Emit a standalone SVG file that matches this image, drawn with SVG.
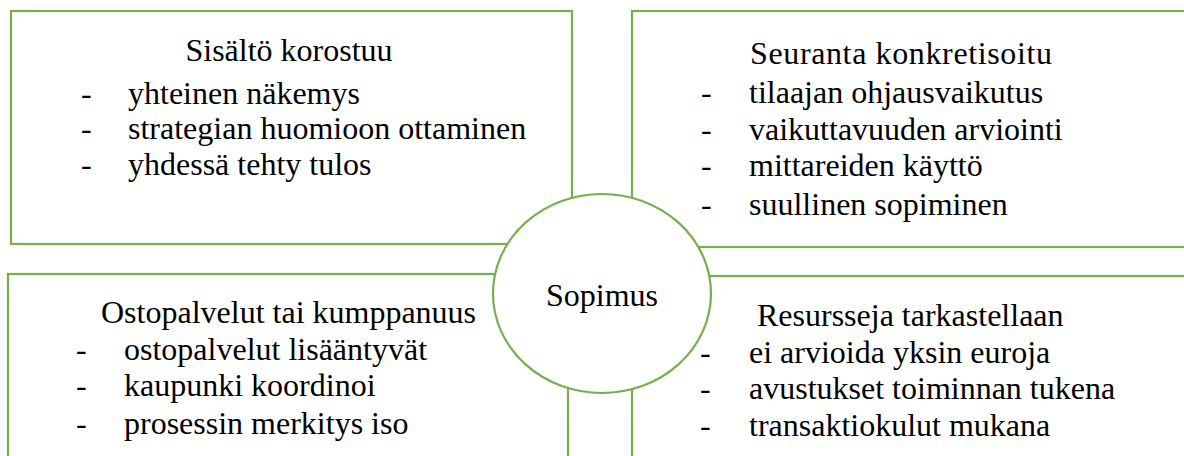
<svg xmlns="http://www.w3.org/2000/svg" width="1184" height="456" viewBox="0 0 1184 456">
<style>
.box{fill:#ffffff;stroke:#74b04d;stroke-width:2.2}
.t{font-family:'Liberation Serif','DejaVu Serif',serif;font-size:32px;fill:#000}
.c{text-anchor:middle}
</style>
<rect width="1184" height="456" fill="#fff"/>
<g id="node-sisalto">
<rect class="box" x="11" y="11" width="561" height="233"/>
<text class="t c" x="289" y="61">Sisältö korostuu</text>
<text class="t" x="81" y="104">-</text><text class="t" x="128" y="104">yhteinen näkemys</text>
<text class="t" x="81" y="139">-</text><text class="t" x="128" y="139">strategian huomioon ottaminen</text>
<text class="t" x="81" y="175">-</text><text class="t" x="128" y="175">yhdessä tehty tulos</text>
</g>
<g id="node-seuranta">
<rect class="box" x="632" y="11" width="600" height="236"/>
<text class="t" x="750" y="64" textLength="302" lengthAdjust="spacing">Seuranta konkretisoitu</text>
<text class="t" x="701" y="103">-</text><text class="t" x="749" y="103">tilaajan ohjausvaikutus</text>
<text class="t" x="701" y="140">-</text><text class="t" x="749" y="140">vaikuttavuuden arviointi</text>
<text class="t" x="701" y="176">-</text><text class="t" x="749" y="176">mittareiden käyttö</text>
<text class="t" x="701" y="215">-</text><text class="t" x="749" y="215">suullinen sopiminen</text>
</g>
<g id="node-ostopalvelut">
<rect class="box" x="8" y="274" width="560" height="250"/>
<text class="t" x="101" y="323">Ostopalvelut tai kumppanuus</text>
<text class="t" x="76" y="360">-</text><text class="t" x="124" y="360">ostopalvelut lisääntyvät</text>
<text class="t" x="76" y="396">-</text><text class="t" x="124" y="396">kaupunki koordinoi</text>
<text class="t" x="76" y="434">-</text><text class="t" x="124" y="434">prosessin merkitys iso</text>
</g>
<g id="node-resurssit">
<rect class="box" x="632" y="276" width="600" height="250"/>
<text class="t" x="757" y="326">Resursseja tarkastellaan</text>
<text class="t" x="700" y="363">-</text><text class="t" x="749" y="363">ei arvioida yksin euroja</text>
<text class="t" x="700" y="399">-</text><text class="t" x="749" y="399">avustukset toiminnan tukena</text>
<text class="t" x="700" y="436">-</text><text class="t" x="749" y="436">transaktiokulut mukana</text>
</g>
<g id="node-sopimus">
<ellipse class="box" cx="602" cy="293.5" rx="109" ry="99.5"/>
<text class="t c" x="602" y="306">Sopimus</text>
</g>
<g id="connectors"></g>
</svg>
